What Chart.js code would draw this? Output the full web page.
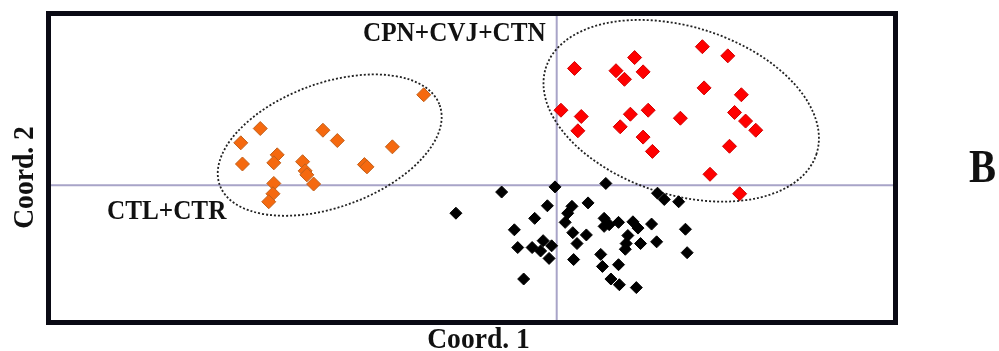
<!DOCTYPE html>
<html>
<head>
<meta charset="utf-8">
<script src="https://cdn.jsdelivr.net/npm/chart.js@4.4.1/dist/chart.umd.min.js"></script>
<style>
  html, body { margin: 0; padding: 0; background: #fff; }
  #wrap { width: 999px; height: 351px; }
</style>
</head>
<body>
<div id="wrap"><canvas id="pcoa"></canvas></div>
<script>
// Coord. 1 / Coord. 2 scores per group
const ctlX = [-0.157, -0.350, -0.373, -0.276, -0.259, -0.194, -0.371, -0.330, -0.334, -0.300, -0.297, -0.295, -0.227, -0.224, -0.287, -0.334, -0.335, -0.340];
const ctlY = [0.158, 0.099, 0.074, 0.096, 0.078, 0.067, 0.037, 0.053, 0.039, 0.041, 0.025, 0.018, 0.036, 0.032, 0.002, 0.003, -0.015, -0.029];

const cpnX = [0.172, 0.202, 0.092, 0.021, 0.070, 0.080, 0.102, 0.174, 0.218, 0.005, 0.029, 0.025, 0.087, 0.108, 0.075, 0.146, 0.210, 0.223, 0.235, 0.102, 0.113, 0.204, 0.181, 0.216];
const cpnY = [0.242, 0.226, 0.223, 0.204, 0.200, 0.185, 0.198, 0.170, 0.158, 0.131, 0.120, 0.095, 0.124, 0.131, 0.102, 0.117, 0.127, 0.112, 0.096, 0.084, 0.059, 0.068, 0.019, -0.015];

const othX = [-0.119, -0.065, -0.002, 0.058, 0.119, 0.127, 0.144, -0.011, 0.018, 0.037, 0.013, -0.026, 0.010, -0.050, 0.019, 0.035, 0.056, 0.056, 0.062, 0.073, 0.090, 0.096, 0.112, 0.152, 0.084, 0.082, 0.081, 0.099, 0.118, 0.154, -0.046, -0.029, -0.016, -0.019, -0.006, -0.009, 0.024, 0.020, 0.052, 0.054, 0.073, 0.064, 0.074, 0.094, -0.039];
const othY = [-0.049, -0.012, -0.003, 0.003, -0.014, -0.025, -0.029, -0.036, -0.037, -0.031, -0.049, -0.058, -0.065, -0.078, -0.083, -0.087, -0.058, -0.072, -0.069, -0.065, -0.064, -0.075, -0.068, -0.077, -0.088, -0.102, -0.112, -0.102, -0.099, -0.118, -0.109, -0.109, -0.097, -0.115, -0.106, -0.128, -0.102, -0.130, -0.121, -0.142, -0.139, -0.164, -0.174, -0.179, -0.164];

// group ellipses: centre in data units, radii (px) and tilt (deg)
const groupRings = [
  { cx: -0.268, cy: 0.070, rx: 117, ry: 62, tilt: -20 },
  { cx: 0.147, cy: 0.130, rx: 142, ry: 84, tilt: 17.6 }
];

const toPts = (xs, ys) => xs.map((x, i) => ({ x: x, y: ys[i] }));

// the figure's bold serif is a bit condensed
const label = (ctx, text, x, y, size, squeeze, align) => {
  ctx.save();
  ctx.translate(x, y);
  ctx.scale(squeeze, 1);
  ctx.font = 'bold ' + size + 'px "Liberation Serif", "Times New Roman", serif';
  ctx.textAlign = align;
  ctx.fillText(text, 0, 0);
  ctx.restore();
};

const frame = {
  id: 'frame',
  beforeDatasetsDraw(chart) {
    const { ctx, chartArea: a, scales } = chart;
    const x0 = scales.x.getPixelForValue(0);
    const y0 = scales.y.getPixelForValue(0);
    ctx.save();
    ctx.strokeStyle = '#a8a4c8';
    ctx.lineWidth = 2;
    ctx.beginPath();
    ctx.moveTo(a.left, y0); ctx.lineTo(a.right, y0);
    ctx.moveTo(x0, a.top); ctx.lineTo(x0, a.bottom);
    ctx.stroke();

    ctx.strokeStyle = '#222';
    ctx.lineWidth = 1.8;
    ctx.setLineDash([2, 2]);
    groupRings.forEach(r => {
      ctx.beginPath();
      ctx.ellipse(scales.x.getPixelForValue(r.cx), scales.y.getPixelForValue(r.cy),
        r.rx, r.ry, r.tilt * Math.PI / 180, 0, Math.PI * 2);
      ctx.stroke();
    });
    ctx.restore();
  },
  afterDraw(chart) {
    const { ctx, chartArea: a } = chart;
    ctx.save();
    ctx.strokeStyle = '#0a0a14';
    ctx.lineWidth = 5;
    ctx.strokeRect(a.left, a.top, a.right - a.left, a.bottom - a.top);

    ctx.fillStyle = '#111';
    ctx.textBaseline = 'alphabetic';
    label(ctx, 'CPN+CVJ+CTN', 363, 41, 28, 0.9, 'left');
    label(ctx, 'CTL+CTR', 107, 219, 28, 0.9, 'left');
    label(ctx, 'Coord. 1', 478.5, 348, 29, 0.95, 'center');

    ctx.save();
    ctx.translate(33, 177.5);
    ctx.rotate(-Math.PI / 2);
    label(ctx, 'Coord. 2', 0, 0, 29, 0.95, 'center');
    ctx.restore();

    label(ctx, 'B', 969, 181.5, 46, 0.88, 'left');
    ctx.restore();
  }
};

new Chart(document.getElementById('pcoa'), {
  type: 'scatter',
  data: {
    datasets: [
      {
        label: 'CTL+CTR',
        data: toPts(ctlX, ctlY),
        pointStyle: 'rectRot',
        pointRadius: 7,
        backgroundColor: '#f5690f',
        borderColor: '#c0601c',
        borderWidth: 1
      },
      {
        label: 'CPN+CVJ+CTN',
        data: toPts(cpnX, cpnY),
        pointStyle: 'rectRot',
        pointRadius: 7,
        backgroundColor: '#ff0000',
        borderColor: '#d00000',
        borderWidth: 1
      },
      {
        label: 'other',
        data: toPts(othX, othY),
        pointStyle: 'rectRot',
        pointRadius: 6,
        backgroundColor: '#000',
        borderColor: '#000',
        borderWidth: 1
      }
    ]
  },
  options: {
    responsive: true,
    maintainAspectRatio: false,
    animation: false,
    layout: { padding: { left: 48.5, top: 13.5, right: 103.5, bottom: 28.5 } },
    plugins: { legend: { display: false }, tooltip: { enabled: false } },
    scales: {
      x: { type: 'linear', min: -0.6, max: 0.4, display: false },
      y: { type: 'linear', min: -0.24, max: 0.3, display: false }
    }
  },
  plugins: [frame]
});
</script>
</body>
</html>
